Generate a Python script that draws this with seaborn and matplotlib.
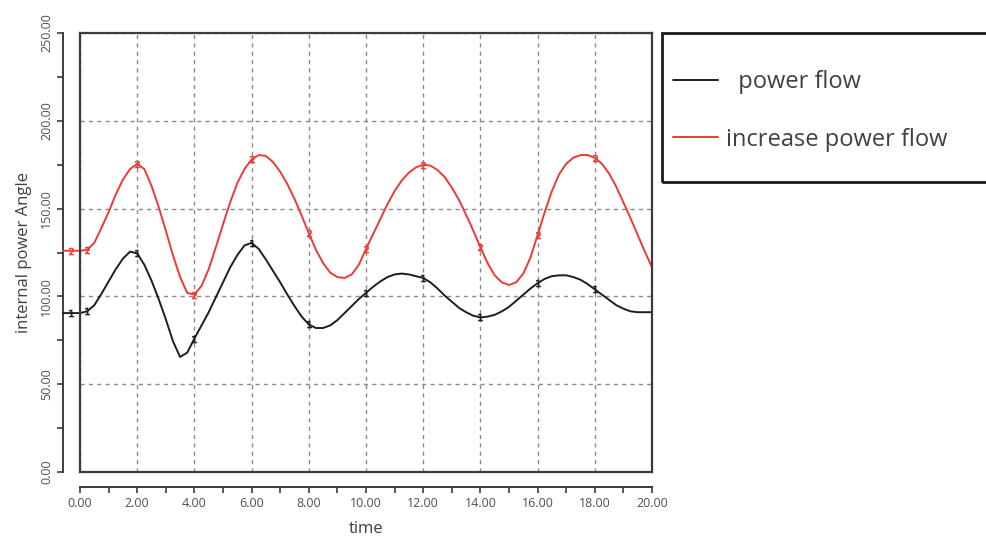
import numpy as np
import pandas as pd
import matplotlib.pyplot as plt
import seaborn as sns
from matplotlib.lines import Line2D
from matplotlib.patches import Rectangle

# --------------------------------------------------
# Data
# --------------------------------------------------

time = [-0.6, -0.3, 0.0, 0.25, 0.5, 0.75, 1.0, 1.25, 1.5, 1.75,
        2.0, 2.25, 2.5, 2.75, 3.0, 3.25, 3.5, 3.75, 4.0, 4.25,
        4.5, 4.75, 5.0, 5.25, 5.5, 5.75, 6.0, 6.25, 6.5, 6.75,
        7.0, 7.25, 7.5, 7.75, 8.0, 8.25, 8.5, 8.75, 9.0, 9.25,
        9.5, 9.75, 10.0, 10.25, 10.5, 10.75, 11.0, 11.25, 11.5, 11.75,
        12.0, 12.25, 12.5, 12.75, 13.0, 13.25, 13.5, 13.75, 14.0, 14.25,
        14.5, 14.75, 15.0, 15.25, 15.5, 15.75, 16.0, 16.25, 16.5, 16.75,
        17.0, 17.25, 17.5, 17.75, 18.0, 18.25, 18.5, 18.75, 19.0, 19.25,
        19.5, 19.75, 20.0]

power_flow = [90.5, 90.5, 90.5, 91.5, 95, 101.5, 108.5, 115.5, 121.5, 125.5,
              124.5, 118, 109, 98.5, 87, 74.5, 65.5, 68, 76, 83.5,
              91, 99.5, 108, 116.5, 123.5, 129, 130.5, 127, 121, 114.5,
              108, 101, 94.5, 88.5, 84, 82, 82, 83.5, 86.5, 90.5,
              94.5, 98.5, 102, 105.5, 108.5, 111, 112.5, 113, 112.5, 111.5,
              110.5, 108, 104.5, 100.5, 97, 93.5, 91, 89, 88, 88.5,
              89.5, 91.5, 94, 97.5, 101, 104.5, 107.5, 110, 111.5, 112,
              112, 111, 109.5, 107, 104, 101, 98, 95, 93, 91.5,
              91, 91, 91]

increase_flow = [126, 126, 126, 126.5, 130.5, 139, 148, 158, 166.5, 172.5,
                 175.5, 172.5, 163, 151, 137.5, 123.5, 111, 102, 101, 106,
                 115.5, 128, 141, 153.5, 164.5, 172.5, 178, 180.5, 180, 176.5,
                 171, 164, 155.5, 146, 136, 126.5, 119, 113.5, 111, 110.5,
                 112.5, 118, 127, 135.5, 144, 152.5, 160, 166, 170.5, 173.5,
                 175, 174.5, 172, 168, 162, 155, 146.5, 137.5, 128, 119,
                 112, 108, 106.5, 108, 113, 122, 135, 148, 160, 169.5,
                 175.5, 179, 180.5, 180.5, 179, 175.5, 170, 162.5, 153.5, 144.5,
                 135, 125.5, 116.5]

# curve-number markers (Vensim style)
marker_times = [-0.3, 0.25, 2.0, 4.0, 6.0, 8.0, 10.0, 12.0, 14.0, 16.0, 18.0]

x_ticks = np.arange(0, 21, 2)
y_ticks = np.arange(0, 251, 50)

df = pd.DataFrame({"time": time, "power flow": power_flow,
                   "increase power flow": increase_flow})

# --------------------------------------------------
# Figure
# --------------------------------------------------

sns.set_style("white")
plt.rcParams["font.family"] = ["Open Sans", "DejaVu Sans"]

fig = plt.figure(figsize=(9.87, 5.46), dpi=100)
ax = fig.add_axes([80 / 987, 74 / 546, 572 / 987, 439 / 546])

black = "#1e1e1e"
red = "#ec3a38"

sns.lineplot(data=df, x="time", y="power flow", ax=ax, color=black, lw=1.4,
             clip_on=False)
sns.lineplot(data=df, x="time", y="increase power flow", ax=ax, color=red,
             lw=1.4, clip_on=False)

idx = [i for i, t in enumerate(time) if t in marker_times]
for line, sym, c in zip(ax.lines, ["$1$", "$2$"], [black, red]):
    line.set_marker(sym)
    line.set_markevery(idx)
    line.set_markersize(5)
    line.set_markeredgewidth(0.5)
    line.set_markeredgecolor(c)
    line.set_markerfacecolor(c)

ax.set_xlim(0, 20)
ax.set_ylim(0, 250)

# box + dashed grid
for s in ax.spines.values():
    s.set_visible(True)
    s.set_color("#3c3c3c")
    s.set_linewidth(1.6)
ax.set_xticks(x_ticks)
ax.set_yticks(y_ticks)
ax.tick_params(left=False, bottom=False, labelleft=False, labelbottom=False)
ax.grid(True, ls=(0, (3, 3)), color="#8a8a8a", lw=1.0)
ax.set_xlabel("")
ax.set_ylabel("")

# offset axes with ticks and labels
sec_y = ax.secondary_yaxis(-17 / 572)
sec_y.set_yticks(y_ticks)
sec_y.set_yticklabels([f"{v:.2f}" for v in y_ticks], rotation=90, va="center")
sec_y.set_yticks(np.arange(0, 251, 25), minor=True)
sec_y.tick_params(which="both", direction="out", length=4, width=1.2,
                  colors="#3c3c3c", labelsize=9, pad=3, labelcolor="#505050")
sec_y.spines["left"].set_linewidth(1.4)
sec_y.spines["left"].set_color("#3c3c3c")
sec_y.set_ylabel("internal power Angle", fontsize=12, color="#404040", labelpad=6)

sec_x = ax.secondary_xaxis(-15 / 439)
sec_x.set_xticks(x_ticks)
sec_x.set_xticklabels([f"{v:.2f}" for v in x_ticks])
sec_x.set_xticks(np.arange(0, 21, 1), minor=True)
sec_x.tick_params(which="both", direction="out", length=4, width=1.2,
                  colors="#3c3c3c", labelsize=9, pad=3, labelcolor="#505050")
sec_x.spines["bottom"].set_linewidth(1.4)
sec_x.spines["bottom"].set_color("#3c3c3c")
sec_x.set_xlabel("time", fontsize=12, color="#404040", labelpad=8)

# legend box on the right (runs off the right edge)
box = Rectangle((662 / 987, 1 - 182 / 546), 0.4, 149 / 546,
                transform=fig.transFigure, fill=False, lw=2.0,
                edgecolor="#1a1a1a", clip_on=False)
fig.patches.append(box)

handles = [Line2D([], [], color=black, lw=1.4), Line2D([], [], color=red, lw=1.4)]
leg = fig.legend(handles, ["  power flow", "increase power flow"],
                 loc="upper left", bbox_to_anchor=(673 / 987, 1 - 70 / 546),
                 frameon=False, fontsize=17, handlelength=1.9,
                 handletextpad=0.35, labelspacing=1.42, borderpad=0,
                 borderaxespad=0)
for t in leg.get_texts():
    t.set_color("#404040")

fig.savefig("out.png", dpi=100)
print("Saved out.png")
